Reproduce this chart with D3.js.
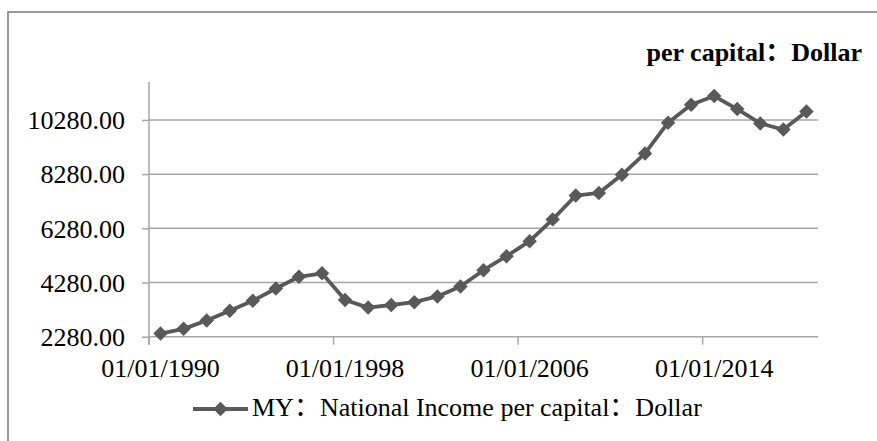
<!DOCTYPE html>
<html lang="en">
<head>
    <meta charset="UTF-8">
    <title>National Income per capital</title>
    <script src="https://cdn.jsdelivr.net/npm/d3@7/dist/d3.min.js"></script>
    <style>
        body { margin: 0; background: #fff; }
        text { font-family: "Liberation Serif", "Times New Roman", "Noto Sans CJK SC", serif; fill: #000; }
    </style>
</head>
<body>
<svg id="main" width="877" height="441"></svg>
<script>
    const dates = ['01/01/1990', '01/01/1991', '01/01/1992', '01/01/1993', '01/01/1994',
        '01/01/1995', '01/01/1996', '01/01/1997', '01/01/1998', '01/01/1999',
        '01/01/2000', '01/01/2001', '01/01/2002', '01/01/2003', '01/01/2004',
        '01/01/2005', '01/01/2006', '01/01/2007', '01/01/2008', '01/01/2009',
        '01/01/2010', '01/01/2011', '01/01/2012', '01/01/2013', '01/01/2014',
        '01/01/2015', '01/01/2016', '01/01/2017', '01/01/2018'];

    const income = [2395, 2570, 2880, 3235, 3605,
        4060, 4490, 4620, 3635, 3355,
        3450, 3555, 3765, 4135, 4735,
        5250, 5805, 6610, 7490, 7585,
        8255, 9045, 10180, 10840, 11160,
        10680, 10150, 9925, 10590];

    const yTicks = [2280, 4280, 6280, 8280, 10280];
    const xLabels = ['01/01/1990', '01/01/1998', '01/01/2006', '01/01/2014'];

    const seriesName = 'MY：National Income per capital：Dollar';
    const unitLabel = 'per capital：Dollar';

    const lineColor = '#595959';
    const gridColor = '#a6a6a6';

    let svg = d3.select('svg#main');
    let plotLeft = 149, plotRight = 818, plotTop = 82, plotBottom = 336.7;

    // chart frame (runs off the right and bottom edges)
    svg.append('path')
        .attr('d', 'M8,445 L8,12 L880,12')
        .attr('fill', 'none')
        .attr('stroke', '#7a7a7a')
        .attr('stroke-width', 1.5);

    let x = d3.scaleBand().domain(dates).range([plotLeft, plotRight]).padding(0);
    let y = d3.scaleLinear().domain([2280, 11680]).range([plotBottom, plotTop]);

    // horizontal grid
    svg.append('g').selectAll('line')
        .data(yTicks)
        .enter().append('line')
        .attr('x1', plotLeft).attr('x2', plotRight)
        .attr('y1', d => y(d)).attr('y2', d => y(d))
        .attr('stroke', gridColor)
        .attr('stroke-width', 1.5);

    // y axis
    let yAxis = svg.append('g')
        .attr('transform', 'translate(' + plotLeft + ',0)')
        .call(d3.axisLeft(y).tickValues(yTicks).tickFormat(d3.format('.2f'))
            .tickSize(7).tickPadding(17).tickSizeOuter(0));
    yAxis.attr('font-family', null);
    yAxis.select('.domain').attr('stroke', gridColor).attr('stroke-width', 1.5)
        .attr('d', 'M0,' + plotTop + 'V' + (plotBottom + 8));
    yAxis.selectAll('.tick line').attr('stroke', gridColor).attr('stroke-width', 1.5);
    yAxis.selectAll('.tick text').attr('font-size', 26).attr('dy', '0.34em');

    // x tick marks on category boundaries, labels centred on the category
    svg.append('g').selectAll('line')
        .data(xLabels)
        .enter().append('line')
        .attr('x1', d => x(d)).attr('x2', d => x(d))
        .attr('y1', plotBottom).attr('y2', plotBottom + 8)
        .attr('stroke', gridColor)
        .attr('stroke-width', 1.5);

    svg.append('g').selectAll('text')
        .data(xLabels)
        .enter().append('text')
        .attr('x', d => x(d) + x.bandwidth() / 2)
        .attr('y', 377)
        .attr('text-anchor', 'middle')
        .attr('font-size', 26)
        .text(d => d);

    // series line
    let line = d3.line()
        .x((d, i) => x(dates[i]) + x.bandwidth() / 2)
        .y(d => y(d));

    svg.append('path')
        .datum(income)
        .attr('d', line)
        .attr('fill', 'none')
        .attr('stroke', lineColor)
        .attr('stroke-width', 3.8)
        .attr('stroke-linejoin', 'round');

    let diamond = d3.symbol().type(d3.symbolSquare).size(105);
    svg.append('g').selectAll('path')
        .data(income)
        .enter().append('path')
        .attr('d', diamond)
        .attr('fill', lineColor)
        .attr('transform', (d, i) => 'translate(' + (x(dates[i]) + x.bandwidth() / 2) + ',' + y(d) + ') rotate(45)');

    // unit label top right
    svg.append('text')
        .attr('x', 862)
        .attr('y', 61)
        .attr('text-anchor', 'end')
        .attr('font-size', 26)
        .attr('font-weight', 'bold')
        .text(unitLabel);

    // legend
    let legend = svg.append('g').attr('transform', 'translate(193,409)');
    legend.append('line')
        .attr('x1', 0).attr('x2', 55)
        .attr('stroke', lineColor).attr('stroke-width', 3.8);
    legend.append('path')
        .attr('d', diamond)
        .attr('fill', lineColor)
        .attr('transform', 'translate(27.5,0) rotate(45)');
    legend.append('text')
        .attr('x', 59)
        .attr('y', 7)
        .attr('font-size', 26)
        .text(seriesName);
</script>
</body>
</html>
